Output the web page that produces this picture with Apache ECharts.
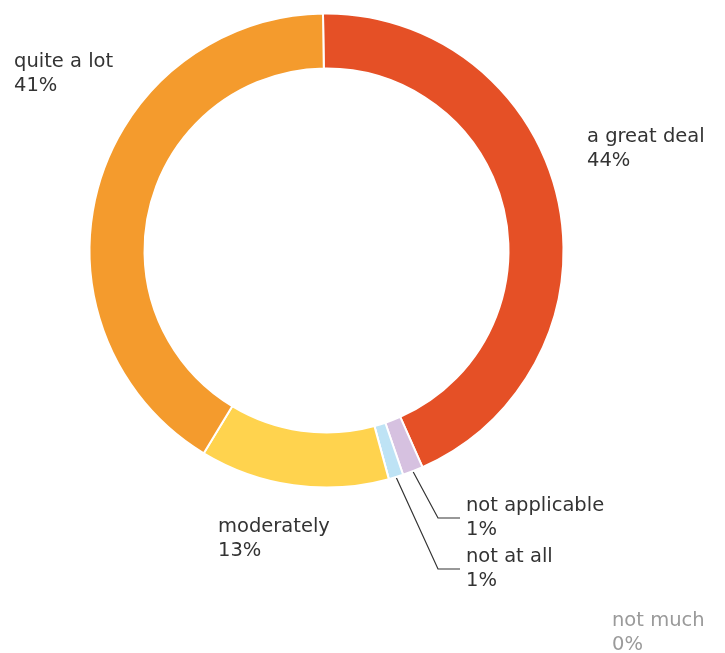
<!DOCTYPE html>
<html>
<head>
<meta charset="utf-8">
<script src="https://cdn.jsdelivr.net/npm/echarts@6/dist/echarts.min.js"></script>
<style>
  html, body { margin: 0; padding: 0; background: #fff; }
  #chart { width: 725px; height: 653px; }
</style>
</head>
<body>
<div id="chart"></div>
<script>
// answers, clockwise from the top
const categories = ['a great deal', 'not applicable', 'not at all', 'not much', 'moderately', 'quite a lot'];
const shares = [43.6, 1.4, 1.0, 0, 12.9, 41.1];
const percentLabels = ['44%', '1%', '1%', '0%', '13%', '41%'];
const colors = ['#E55026', '#D6C1E0', '#BEE3F5', '#D9D9D9', '#FFD34E', '#F49B2D'];

// where each label block sits (left edge, vertical middle)
const labelSpots = [
  [581, 149],
  [460, 518],
  [460, 569],
  [606, 633],
  [212, 539],
  [8, 74]
];
const withLine = [false, true, true, false, false, false];

const chart = echarts.init(document.getElementById('chart'));

const data = categories.map((name, i) => ({
  name: name,
  value: shares[i],
  pct: percentLabels[i],
  itemStyle: { color: colors[i] },
  label: { color: i === 3 ? '#9a9a9a' : '#333333' },
  labelLine: { show: withLine[i] }
}));

chart.setOption({
  animation: false,
  series: [{
    type: 'pie',
    center: [326.5, 250.5],
    radius: [182, 237],
    startAngle: 90.85,
    clockwise: true,
    minShowLabelAngle: 0,
    itemStyle: { borderColor: '#ffffff', borderWidth: 2 },
    emphasis: { disabled: true },
    label: {
      show: true,
      position: 'outside',
      overflow: 'none',
      fontFamily: 'DejaVu Sans',
      fontSize: 19.5,
      lineHeight: 24,
      padding: [0, 0, 0, 6],
      formatter: p => p.name + '\n' + p.data.pct
    },
    labelLine: {
      show: false,
      length: 20,
      length2: 22,
      lineStyle: { color: '#333333', width: 1.2 }
    },
    labelLayout: p => ({
      x: labelSpots[p.dataIndex][0],
      y: labelSpots[p.dataIndex][1],
      align: 'left',
      verticalAlign: 'middle'
    }),
    data: data
  }]
});
</script>
</body>
</html>
